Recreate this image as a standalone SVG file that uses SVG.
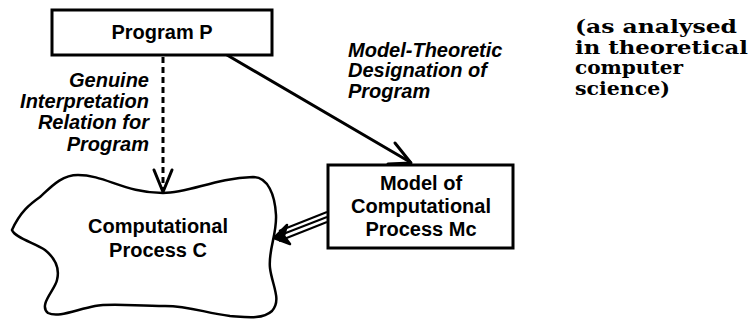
<svg xmlns="http://www.w3.org/2000/svg" width="750" height="322" viewBox="0 0 750 322">
<style>
.box{fill:#fff;stroke:#000;stroke-width:3}
.lbl{font-family:"Liberation Sans",Arial,sans-serif;font-weight:bold;font-size:20px;fill:#000;text-anchor:middle}
.it{font-family:"Liberation Sans",Arial,sans-serif;font-weight:bold;font-style:italic;font-size:20px;fill:#000}
.serif{font-family:"DejaVu Serif","Liberation Serif",serif;font-weight:bold;font-size:19px;fill:#000}
.ln{fill:none;stroke:#000;stroke-width:3;stroke-linecap:round;stroke-linejoin:round}
</style>
<rect width="750" height="322" fill="#fff"/>
<g id="connectors">
  <line x1="163" y1="57" x2="163" y2="190" stroke="#000" stroke-width="3" stroke-dasharray="6,4"/>
  <polyline class="ln" points="154,170 163,192 172,170" stroke-width="2.5"/>
  <line class="ln" x1="227" y1="55" x2="410" y2="162"/>
  <polyline class="ln" points="395,143 411,163 388,164"/>
  <g stroke="#000" stroke-width="2">
    <line x1="327" y1="212" x2="279" y2="231"/>
    <line x1="327" y1="217" x2="278" y2="236"/>
    <line x1="327" y1="222" x2="279" y2="241"/>
  </g>
  <polygon points="287,225 274,238 290,244 284,236" fill="#000" stroke="#000" stroke-width="2.5" stroke-linejoin="round"/>
</g>
<g id="programP">
  <rect class="box" x="52" y="10" width="220" height="45"/>
  <text class="lbl" x="162" y="39">Program P</text>
</g>
<g id="processC">
  <path fill="#fff" stroke="#000" stroke-width="2.5" d="M12,230 C20,212 30,204 40,197 C52,186 62,175 78,175 C105,175 125,193 163,193 C190,193 215,178 253,177 C268,177 275,195 276,215 C277,235 268,250 270,268 C272,285 282,300 272,311 C262,320 245,317 230,316 C205,313 190,306 165,306 C135,306 110,303 95,306 C75,310 58,318 48,313 C38,305 55,290 57,280 C60,268 55,258 45,250 C35,243 15,238 12,230 Z"/>
  <text class="lbl" x="158" y="233">Computational</text>
  <text class="lbl" x="158" y="257">Process C</text>
</g>
<g id="modelMc">
  <rect class="box" x="328" y="165" width="185" height="83"/>
  <text class="lbl" x="421" y="190">Model of</text>
  <text class="lbl" x="421" y="213">Computational</text>
  <text class="lbl" x="421" y="236">Process Mc</text>
</g>
<g id="labelGenuine" class="it" text-anchor="end">
  <text x="149" y="87">Genuine</text>
  <text x="149" y="108">Interpretation</text>
  <text x="149" y="129">Relation for</text>
  <text x="149" y="151">Program</text>
</g>
<g id="labelModelTheoretic" class="it">
  <text x="348" y="57">Model-Theoretic</text>
  <text x="348" y="77">Designation of</text>
  <text x="348" y="98">Program</text>
</g>
<g id="note" class="serif">
  <text x="575" y="33" textLength="162" lengthAdjust="spacingAndGlyphs">(as analysed</text>
  <text x="575" y="54" textLength="173" lengthAdjust="spacingAndGlyphs">in theoretical</text>
  <text x="575" y="74" textLength="108" lengthAdjust="spacingAndGlyphs">computer</text>
  <text x="575" y="95" textLength="95" lengthAdjust="spacingAndGlyphs">science)</text>
</g>
</svg>
